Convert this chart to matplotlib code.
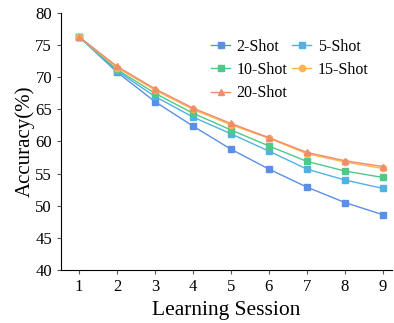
import numpy as np
import matplotlib
matplotlib.use("Agg")
import matplotlib.pyplot as plt

plt.rcParams['font.family'] = ['Liberation Serif', 'DejaVu Serif']

sessions = [1, 2, 3, 4, 5, 6, 7, 8, 9]
shot_2 = [76.3, 70.8, 66.2, 62.4, 58.8, 55.7, 52.9, 50.5, 48.6]
shot_5 = [76.3, 71.0, 67.0, 63.8, 61.2, 58.5, 55.7, 54.0, 52.7]
shot_10 = [76.3, 71.2, 67.5, 64.4, 61.8, 59.3, 56.9, 55.4, 54.4]
shot_15 = [76.3, 71.5, 68.0, 65.0, 62.6, 60.5, 58.1, 56.8, 55.8]
shot_20 = [76.3, 71.7, 68.2, 65.2, 62.8, 60.6, 58.3, 57.0, 56.1]

series = [
    ("2-Shot", shot_2, "#5b8fe6", "s"),
    ("5-Shot", shot_5, "#4fb2e3", "s"),
    ("10-Shot", shot_10, "#4ec98a", "s"),
    ("15-Shot", shot_15, "#ffb54c", "o"),
    ("20-Shot", shot_20, "#f28a6c", "^"),
]

fig = plt.figure(figsize=(3.94, 3.23), dpi=100)
ax = fig.add_axes([0.155, 0.164, 0.84, 0.796])

lines = {}
for name, vals, col, mk in series:
    ln, = ax.plot(sessions, vals, color=col, marker=mk, markersize=4.5, linewidth=1.0, label=name)
    lines[name] = ln

ax.set_xlim(0.53, 9.24)
ax.set_ylim(40, 80)
ax.set_xticks(sessions)
ax.set_yticks(range(40, 81, 5))
ax.spines['top'].set_visible(False)
ax.spines['right'].set_visible(False)
ax.tick_params(labelsize=12, length=3, color='#555555')
ax.set_xlabel("Learning Session", fontsize=15.5)
ax.set_ylabel("Accuracy(%)", fontsize=15, labelpad=0)

# row-wise order in a 2-column legend
order = ["2-Shot", "10-Shot", "20-Shot", "5-Shot", "15-Shot"]
ax.legend([lines[k] for k in order], order, ncol=2, frameon=False, fontsize=11.5,
          loc='upper left', bbox_to_anchor=(0.536, 0.88), bbox_transform=fig.transFigure,
          borderaxespad=0, borderpad=0,
          handlelength=1.2, columnspacing=0.3, handletextpad=0.4, labelspacing=0.45)

fig.savefig("out.png", dpi=100)
